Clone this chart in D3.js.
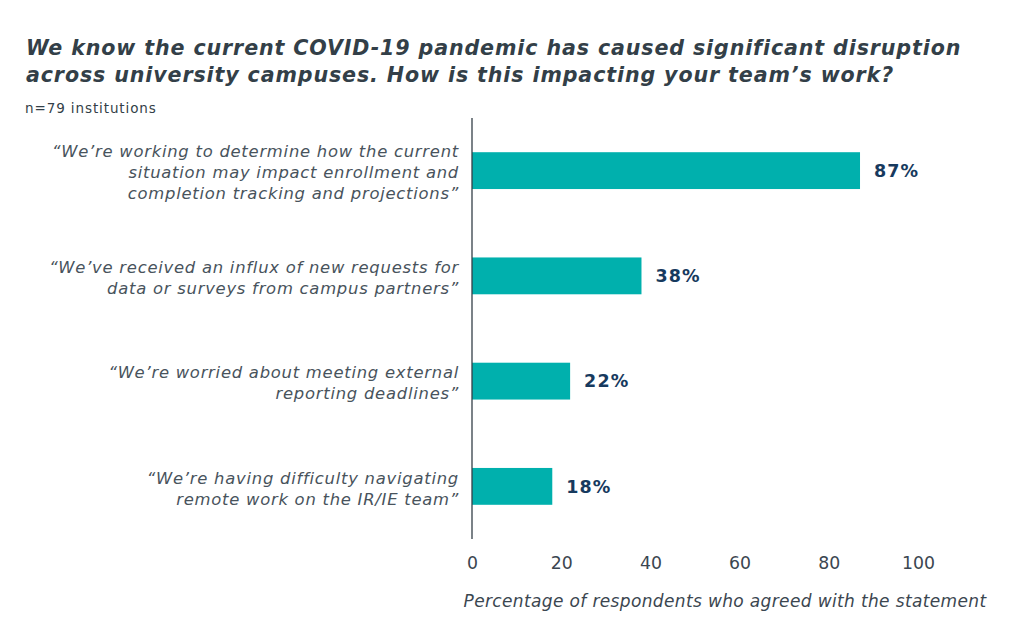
<!DOCTYPE html>
<html><head><meta charset="utf-8">
<script src="https://cdn.jsdelivr.net/npm/d3@7"></script>
<style>body{margin:0;background:#fff}svg{display:block}</style>
</head><body>
<script>
const categories = [
  ["“We’re working to determine how the current","situation may impact enrollment and","completion tracking and projections”"],
  ["“We’ve received an influx of new requests for","data or surveys from campus partners”"],
  ["“We’re worried about meeting external","reporting deadlines”"],
  ["“We’re having difficulty navigating","remote work on the IR/IE team”"]
];
const values = [87, 38, 22, 18];
const tickValues = [0, 20, 40, 60, 80, 100];
const titleLines = ["We know the current COVID-19 pandemic has caused significant disruption","across university campuses. How is this impacting your team’s work?"];
const subtitle = "n=79 institutions";
const xAxisTitle = "Percentage of respondents who agreed with the statement";

const W = 1024, H = 643;
const svg = d3.select("body").append("svg").attr("width", W).attr("height", H);
const font = "'DejaVu Sans', Verdana, sans-serif";
const textColor = "#3b4650";

const x = d3.scaleLinear().domain([0, 100]).range([472, 918]);
const y = d3.scaleBand().domain(d3.range(values.length)).range([118, 539]).paddingInner(0.65).paddingOuter(0.325);

svg.append("g").selectAll("text").data(titleLines).join("text")
  .attr("x", 26).attr("y", (d, i) => 55 + i * 27)
  .attr("font-family", font).attr("font-size", 20.6).attr("font-weight", "bold").attr("font-style", "italic")
  .attr("letter-spacing", 0.88)
  .attr("fill", "#333f48").text(d => d);

svg.append("text").attr("x", 25).attr("y", 113).attr("font-family", font).attr("font-size", 13.5)
  .attr("letter-spacing", 0.9)
  .attr("fill", "#333f48").text(subtitle);

// bars
svg.append("g").selectAll("rect").data(values).join("rect")
  .attr("x", x(0)).attr("y", (d, i) => y(i)).attr("width", d => x(d) - x(0)).attr("height", y.bandwidth())
  .attr("fill", "#00b0ad");

// value labels
svg.append("g").selectAll("text").data(values).join("text")
  .attr("x", d => x(d) + 14).attr("y", (d, i) => y(i) + y.bandwidth() / 2).attr("dy", "0.36em")
  .attr("font-family", font).attr("font-size", 17.5).attr("font-weight", "bold").attr("fill", "#173a5e")
  .attr("letter-spacing", 1.1)
  .text(d => d + "%");

// category labels
const cat = svg.append("g").selectAll("text").data(categories).join("text")
  .attr("text-anchor", "end").attr("font-family", font).attr("font-size", 16.4).attr("font-style", "italic")
  .attr("letter-spacing", 0.75)
  .attr("fill", "#48535c");
cat.each(function(lines, i) {
  const cy = y(i) + y.bandwidth() / 2;
  const lh = 21;
  const start = cy - (lines.length - 1) * lh / 2;
  d3.select(this).selectAll("tspan").data(lines).join("tspan")
    .attr("x", 459).attr("y", (d, j) => start + j * lh).attr("dy", "0.47em").text(d => d);
});

// y axis line
svg.append("line").attr("x1", x(0)).attr("x2", x(0)).attr("y1", 118).attr("y2", 539)
  .attr("stroke", "#333f48").attr("stroke-width", 1.3);

// x axis ticks (no line)
const xAxis = d3.axisBottom(x).tickValues(tickValues).tickSize(0).tickPadding(0);
const gx = svg.append("g").attr("transform", "translate(0,557)").call(xAxis);
gx.select(".domain").remove();
gx.selectAll("text").attr("font-family", font).attr("font-size", 17.3).attr("fill", textColor);

svg.append("text").attr("x", 725).attr("y", 607).attr("text-anchor", "middle")
  .attr("font-family", font).attr("font-size", 17).attr("font-style", "italic").attr("fill", textColor)
  .attr("letter-spacing", 0.36)
  .text(xAxisTitle);
</script>
</body></html>
